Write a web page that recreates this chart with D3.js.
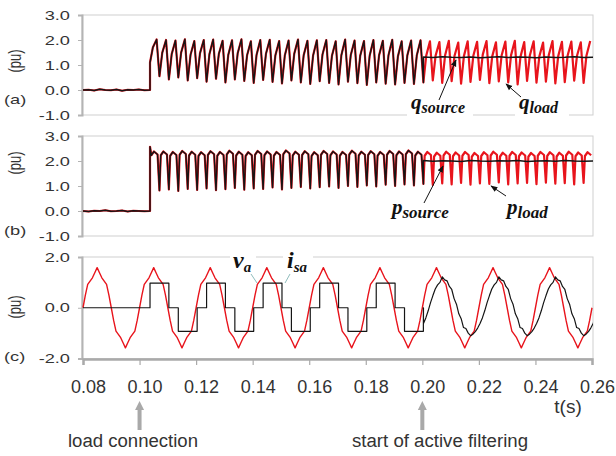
<!DOCTYPE html>
<html><head><meta charset="utf-8">
<script src="https://cdn.jsdelivr.net/npm/d3@7"></script>
<style>body{margin:0;background:#fff}svg{display:block}</style>
</head><body>
<script>
// ---------------- data ----------------
const tStart = 0.08, tEnd = 0.26;
const tLoadConnection = 0.1037;
const tFilterStart = 0.2004;
const rippleFreq = 300;     // Hz, ripple of p and q
const lineFreq = 50;        // Hz, va / isa
const xTicks = [0.08, 0.10, 0.12, 0.14, 0.16, 0.18, 0.20, 0.22, 0.24, 0.26];
const xTickLabels = ["0.08","0.10","0.12","0.14","0.16","0.18","0.20","0.22","0.24","0.26"];
const pqTicks = [-1, 0, 1, 2, 3];
const pqTickLabels = ["-1.0","0.0","1.0","2.0","3.0"];
const viTicks = [-2, 0, 2];
const viTickLabels = ["-2.0","0.0","2.0"];

// before load connection (uniform samples)
const preLoadQ = [0, 0.01, -0.02, 0.03, 0, -0.01, 0.02, -0.03, 0.01, 0, 0.02, -0.01, 0];
const preLoadP = [0, -0.02, 0.01, 0, 0.03, -0.01, 0, 0.02, -0.02, 0.01, 0, -0.01, 0];

// q_load: value at start of each ripple cycle, and peak of each ripple cycle
const qLoadTroughs = [1.1,
  0.55,0.42,0.5,0.38,0.47,0.33,0.45,0.3,0.42,0.36,0.28,0.4,0.32,0.26,0.38,0.3,0.24,0.35,0.28,0.22,0.33,0.27,0.2,0.3,0.25,0.22,0.28,0.24,
  0.3,0.38,0.28,0.35,0.25,0.32,0.4,0.27,0.34,0.3,0.22,0.36,0.29,0.33,0.26,0.31,0.37,0.28];
const qLoadPeaks = [2.02,
  2.0,1.98,2.03,1.96,2.0,2.02,1.97,1.99,2.03,1.95,2.0,2.01,1.96,1.98,2.02,1.97,1.99,2.0,1.95,2.02,1.98,1.96,2.0,1.97,2.01,1.95,1.98,1.99,
  1.95,1.92,1.97,1.9,1.95,1.93,1.96,1.91,1.94,1.97,1.92,1.95,1.9,1.96,1.93,1.94,1.91,1.96];
const qSourceFiltered = [1.32,1.3,1.33,1.31,1.3,1.32,1.29,1.31,1.33,1.3,1.32,1.31,1.29,1.32,1.3,1.31,1.33,1.3,1.31];

// p_load: value at start of each ripple cycle (notch bottom), and top of each cycle
const pLoadNotches = [2.57,
  0.82,0.86,0.8,0.88,0.84,0.9,0.83,0.87,0.92,0.85,0.9,0.88,0.94,0.86,0.92,0.96,0.9,0.95,0.98,0.92,1.0,0.96,1.02,0.98,1.05,1.0,1.06,1.02,
  1.08,1.04,1.1,1.06,1.12,1.05,1.1,1.08,1.14,1.06,1.1,1.12,1.07,1.13,1.09,1.11,1.06,1.12];
const pLoadTops = [2.38,
  2.38,2.36,2.4,2.37,2.35,2.39,2.36,2.41,2.37,2.35,2.4,2.38,2.36,2.42,2.37,2.39,2.35,2.4,2.38,2.36,2.41,2.37,2.39,2.36,2.4,2.38,2.42,2.37,
  2.36,2.33,2.37,2.34,2.36,2.32,2.35,2.37,2.33,2.36,2.34,2.32,2.36,2.35,2.33,2.37,2.34,2.35];
const pSourceFiltered = [2.02,1.99,2.01,2.0,1.98,2.02,2.0,1.99,2.01,2.0,2.02,1.98,2.0,2.01,1.99,2.02,2.0,1.99,2.0];

// va: one fundamental cycle, 15 degree steps
const vaCycle = [0,0.5,0.92,1.05,1.18,1.38,1.58,1.38,1.18,1.05,0.92,0.5,
                 0,-0.5,-0.92,-1.05,-1.18,-1.38,-1.58,-1.38,-1.18,-1.05,-0.92,-0.5];
// isa before filtering: six-step levels and their share of a cycle
const isaStepLevels = [0.97, 0, -0.93, 0];
const isaStepShares = [1/3, 1/6, 1/3, 1/6];
// isa after filtering: one cycle, 15 degree steps from tFilterStart
const isaFilteredCycle = [-0.62,-0.40,-0.12,0.2,0.48,0.74,0.9,1.0,1.22,1.1,1.06,0.84,
                          0.72,0.36,0.14,-0.24,-0.43,-0.78,-0.82,-1.0,-1.1,-1.04,-0.94,-0.8];

// ---------------- build series ----------------
const T = 1 / rippleFreq, P = 1 / lineFreq;
const preT = (arr, i) => tStart + i * (tLoadConnection - tStart) / (arr.length - 1);
function qCycles(from, to, troughs, peaks) {
  const pts = [];
  for (let k = from; k < to; k++) {
    const t0 = tLoadConnection + k * T, tr = troughs[k], pk = peaks[k];
    pts.push([t0, tr], [t0 + 0.3 * T, tr + 0.65 * (pk - tr)], [t0 + 0.7 * T, pk]);
  }
  return pts;
}
function pCycles(from, to, notches, tops) {
  const pts = [];
  for (let k = from; k < to; k++) {
    const t0 = tLoadConnection + k * T, n = notches[k], tp = tops[k];
    pts.push([t0, n], [t0 + 0.14 * T, tp - 0.15], [t0 + 0.42 * T, tp], [t0 + 0.8 * T, tp - 0.12]);
  }
  return pts;
}
const nCyc = qLoadPeaks.length, nPre = 29;
const qLoad = preLoadQ.map((v, i) => [preT(preLoadQ, i), v]).concat(qCycles(0, nCyc, qLoadTroughs, qLoadPeaks));
const qSource = preLoadQ.map((v, i) => [preT(preLoadQ, i), v]).concat(qCycles(0, nPre, qLoadTroughs, qLoadPeaks))
  .concat([[tFilterStart, qLoadTroughs[nPre]]])
  .concat(qSourceFiltered.map((v, j) => [tFilterStart + j * T, v]));
const pLoad = preLoadP.map((v, i) => [preT(preLoadP, i), v]).concat(pCycles(0, nCyc, pLoadNotches, pLoadTops));
const pSource = preLoadP.map((v, i) => [preT(preLoadP, i), v]).concat(pCycles(0, nPre, pLoadNotches, pLoadTops))
  .concat([[tFilterStart, pLoadNotches[nPre]]])
  .concat(pSourceFiltered.map((v, j) => [tFilterStart + j * T, v]));

const va = [];
for (let k = 0; tStart + k * P / 24 <= tEnd + 1e-9; k++) va.push([tStart + k * P / 24, vaCycle[k % 24]]);
const isa = [[tStart, 0], [tLoadConnection, 0]];
for (let c = 0; ; c++) {
  let t0 = tLoadConnection + c * P, done = false;
  for (let s = 0; s < 4; s++) {
    const t1 = t0 + isaStepShares[s] * P;
    if (t0 >= tFilterStart - 1e-6) { done = true; break; }
    isa.push([t0, isaStepLevels[s]], [Math.min(t1, tFilterStart), isaStepLevels[s]]);
    t0 = t1;
  }
  if (done || t0 >= tFilterStart - 1e-6) break;
}
for (let k = 0; tFilterStart + k * P / 24 <= tEnd + 0.002; k++) isa.push([tFilterStart + k * P / 24, isaFilteredCycle[k % 24]]);

// ---------------- draw ----------------
const W = 616, H = 456;
const svg = d3.select("body").append("svg").attr("width", W).attr("height", H)
  .style("font-family", "'Liberation Sans', Arial, sans-serif");
const FX0 = 82, FX1 = 593;
const x = d3.scaleLinear().domain([tStart, tEnd]).range([83, 592]);
const RED = "#e8141c", BLK = "#151515", TXT = "#333", AX = "#b4b4b4";

const defs = svg.append("defs");
defs.append("marker").attr("id", "ah").attr("viewBox", "0 0 10 10").attr("refX", 9).attr("refY", 5)
  .attr("markerWidth", 7).attr("markerHeight", 7).attr("orient", "auto-start-reverse")
  .append("path").attr("d", "M0,1 L10,5 L0,9 Z").attr("fill", "#111");

function panel(id, top, bottom, domain, ticks, labels, tag, puY, tagY) {
  const y = d3.scaleLinear().domain(domain).range([bottom, top]);
  const g = svg.append("g");
  defs.append("clipPath").attr("id", "clip" + id).append("rect")
    .attr("x", FX0).attr("y", top - 8).attr("width", FX1 - FX0).attr("height", bottom - top + 16);
  // frame
  g.append("rect").attr("x", FX0).attr("y", top).attr("width", FX1 - FX0).attr("height", bottom - top)
    .attr("fill", "none").attr("stroke", "#cfcfcf").attr("stroke-width", 1);
  // left axis
  const ax = g.append("g").attr("transform", `translate(${FX0},0)`)
    .call(d3.axisLeft(y).tickValues(ticks).tickFormat((d, i) => labels[i]).tickSize(4).tickPadding(0));
  ax.select(".domain").attr("stroke", AX).attr("stroke-width", 2);
  ax.selectAll(".tick line").attr("stroke", AX);
  ax.selectAll(".tick text").attr("x", -8.6).attr("fill", TXT).attr("font-size", 13)
    .attr("font-family", "'Liberation Sans', Arial, sans-serif").attr("transform", "scale(1.4,1)");
  g.append("text").attr("transform", `translate(15,${puY}) rotate(-90) scale(1,1.4)`).attr("text-anchor", "middle")
    .attr("dominant-baseline", "central").attr("font-size", 13).attr("fill", TXT).text("(pu)");
  g.append("text").attr("transform", `translate(4,${tagY}) scale(1.4,1)`).attr("font-size", 13)
    .attr("fill", TXT).text(tag);
  return { y, g, clip: "url(#clip" + id + ")" };
}
function drawLine(p, data, color, w) {
  p.g.append("path").datum(data).attr("clip-path", p.clip).attr("fill", "none")
    .attr("stroke", color).attr("stroke-width", w).attr("stroke-linejoin", "round")
    .attr("d", d3.line().x(d => x(d[0])).y(d => p.y(d[1])));
}
function mathLabel(g, xx, yy, main, sub, mainSize, subSize, bg) {
  if (bg) g.append("rect").attr("x", bg[0]).attr("y", bg[1]).attr("width", bg[2]).attr("height", bg[3]).attr("fill", "#fff");
  const t = g.append("text").attr("x", xx).attr("y", yy)
    .attr("font-family", "'Liberation Serif', 'Times New Roman', serif").attr("font-weight", "bold")
    .attr("font-style", "italic").attr("fill", "#111");
  t.append("tspan").attr("font-size", mainSize).text(main);
  t.append("tspan").attr("font-size", subSize).attr("dy", 4).text(sub);
}
function arrow(g, x1, y1, x2, y2) {
  g.append("line").attr("x1", x1).attr("y1", y1).attr("x2", x2).attr("y2", y2)
    .attr("stroke", "#111").attr("stroke-width", 1).attr("marker-end", "url(#ah)");
}

// panel (a)
const pa = panel("a", 15, 115, [-1, 3], pqTicks, pqTickLabels, "(a)", 61, 104);
drawLine(pa, qLoad, RED, 2.2);
drawLine(pa, qSource, BLK, 1.4);
mathLabel(pa.g, 411, 109, "q", "source", 21, 16, [407, 97, 66, 22]);
mathLabel(pa.g, 519, 109, "q", "load", 21, 16, [515, 97, 54, 22]);
arrow(pa.g, 439, 100, 456, 60);
arrow(pa.g, 521, 97, 506, 84);

// panel (b)
const pb = panel("b", 136, 236, [-1, 3], pqTicks, pqTickLabels, "(b)", 163, 235);
drawLine(pb, pLoad, RED, 2.2);
drawLine(pb, pSource, BLK, 1.4);
mathLabel(pb.g, 392, 214, "p", "source", 21, 17, null);
mathLabel(pb.g, 507, 214, "p", "load", 21, 17, null);
arrow(pb.g, 424, 203, 443, 166);
arrow(pb.g, 506, 196, 491, 186);

// panel (c)
const pc = panel("c", 257, 358.5, [-2, 2], viTicks, viTickLabels, "(c)", 307, 361);
drawLine(pc, va, RED, 1.4);
drawLine(pc, isa, BLK, 1.2);
// bottom axis
const xa = svg.append("g").attr("transform", "translate(0,359)")
  .call(d3.axisBottom(x).tickValues(xTicks).tickFormat((d, i) => xTickLabels[i]).tickSize(6));
xa.select(".domain").attr("stroke", "#aaa").attr("stroke-width", 2.5);
xa.selectAll(".tick line").attr("stroke", "#aaa").attr("stroke-width", 1.2);
xa.selectAll(".tick text").attr("y", 34).attr("dy", 0).attr("dx", 5).attr("font-size", 18)
  .attr("fill", TXT).attr("font-family", "'Liberation Sans', Arial, sans-serif");
// v_a and i_sa labels
mathLabel(pc.g, 233, 268, "v", "a", 24, 15, [230, 249, 26, 24]);
mathLabel(pc.g, 287, 268, "i", "sa", 24, 15, [283, 249, 30, 24]);
pc.g.append("line").attr("x1", 251).attr("y1", 274).attr("x2", 257).attr("y2", 283).attr("stroke", "#8fbcbc").attr("stroke-width", 1);
pc.g.append("line").attr("x1", 290).attr("y1", 274).attr("x2", 285).attr("y2", 283).attr("stroke", "#8fbcbc").attr("stroke-width", 1);

// t(s)
svg.append("text").attr("x", 568).attr("y", 413).attr("text-anchor", "middle").attr("font-size", 19)
  .attr("fill", TXT).text("t(s)");
// event arrows
function grayArrow(t, label, lx, lw) {
  const cx = x(t);
  svg.append("path").attr("fill", "#a9a9a9")
    .attr("d", `M${cx},401 L${cx + 4.5},410 L${cx + 2},410 L${cx + 2},430 L${cx - 2},430 L${cx - 2},410 L${cx - 4.5},410 Z`);
  svg.append("text").attr("x", lx).attr("y", 447).attr("font-size", 18).attr("fill", TXT)
    .attr("textLength", lw).attr("lengthAdjust", "spacingAndGlyphs").text(label);
}
grayArrow(0.10, "load connection", 68, 130);
grayArrow(0.20, "start of active filtering", 352, 176);
</script>
</body></html>
